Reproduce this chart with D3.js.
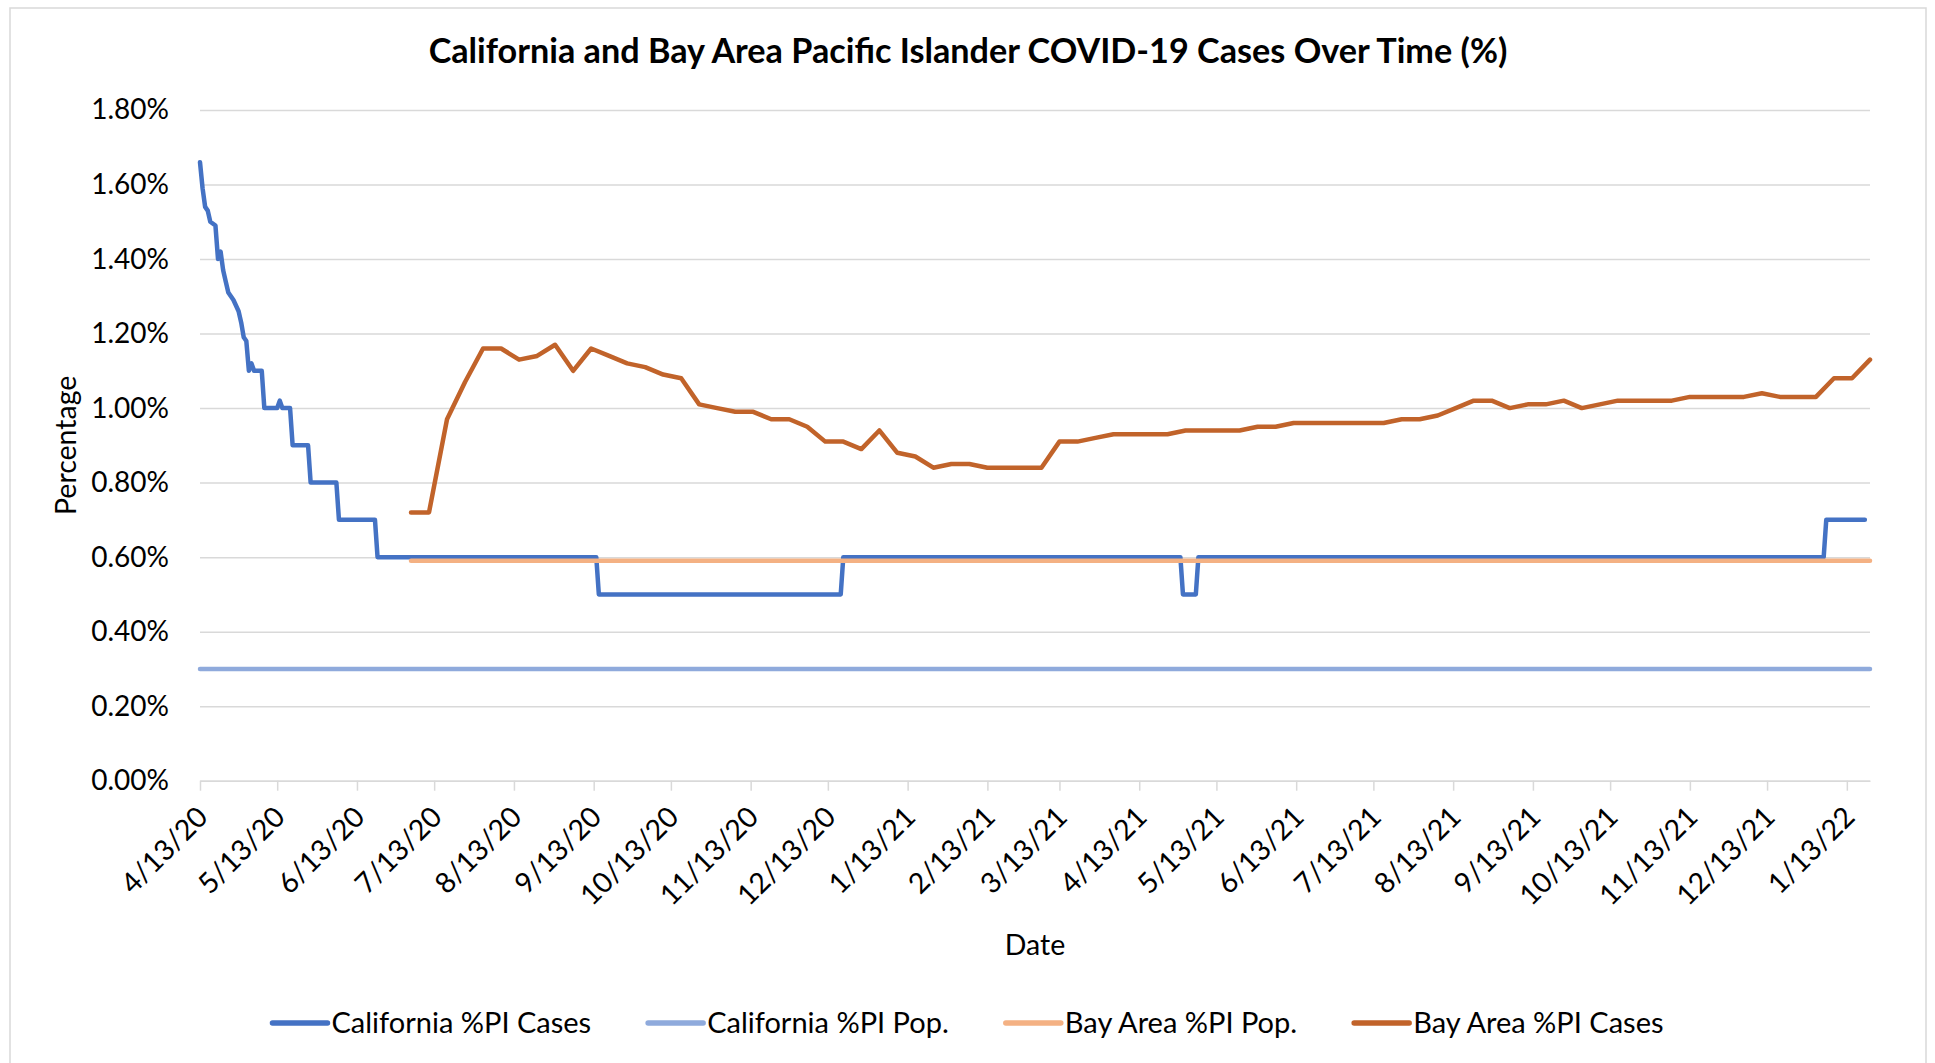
<!doctype html>
<html lang="en">
<head>
<meta charset="utf-8">
<title>California and Bay Area Pacific Islander COVID-19 Cases Over Time (%)</title>
<script src="https://d3js.org/d3.v7.min.js"></script>
<style>
  body { margin: 0; background: #fff; }
  svg { display: block; font-family: Lato, "Open Sans", sans-serif; }
</style>
</head>
<body>
<div id="output"></div>
<script>
// California %PI Cases (change points)
var caCasesDates = ["2020-04-13","2020-04-14","2020-04-15","2020-04-16","2020-04-17","2020-04-19",
  "2020-04-20","2020-04-21","2020-04-22","2020-04-23","2020-04-24","2020-04-25","2020-04-26",
  "2020-04-28","2020-04-29","2020-04-30","2020-05-01","2020-05-02","2020-05-03","2020-05-04",
  "2020-05-07","2020-05-08","2020-05-13","2020-05-14","2020-05-15","2020-05-18","2020-05-19",
  "2020-05-25","2020-05-26","2020-06-05","2020-06-06","2020-06-20","2020-06-21","2020-09-14",
  "2020-09-15","2020-12-18","2020-12-19","2021-04-29","2021-04-30","2021-05-05","2021-05-06",
  "2022-01-04","2022-01-05","2022-01-20"];
var caCasesValues = [1.66,1.59,1.54,1.53,1.50,1.49,
  1.40,1.42,1.37,1.34,1.31,1.30,1.29,
  1.26,1.23,1.19,1.18,1.10,1.12,1.10,
  1.10,1.00,1.00,1.02,1.00,1.00,0.90,
  0.90,0.80,0.80,0.70,0.70,0.60,0.60,
  0.50,0.50,0.60,0.60,0.50,0.50,0.60,
  0.60,0.70,0.70];

// Bay Area %PI Cases, weekly (Saturdays) from 7/4/20 to 1/22/22
var bayCasesStart = "2020-07-04", bayCasesEnd = "2022-01-22";
var bayCasesValues = [0.72,0.72,0.97,1.07,1.16,1.16,1.13,1.14,1.17,1.10,
  1.16,1.14,1.12,1.11,1.09,1.08,1.01,1.00,0.99,0.99,
  0.97,0.97,0.95,0.91,0.91,0.89,0.94,0.88,0.87,0.84,
  0.85,0.85,0.84,0.84,0.84,0.84,0.91,0.91,0.92,0.93,
  0.93,0.93,0.93,0.94,0.94,0.94,0.94,0.95,0.95,0.96,
  0.96,0.96,0.96,0.96,0.96,0.97,0.97,0.98,1.00,1.02,
  1.02,1.00,1.01,1.01,1.02,1.00,1.01,1.02,1.02,1.02,
  1.02,1.03,1.03,1.03,1.03,1.04,1.03,1.03,1.03,1.08,
  1.08,1.13];

// population shares (flat)
var caPopDates = ["2020-04-13","2022-01-22"], caPopValues = [0.30, 0.30];
var bayPopDates = ["2020-07-04","2022-01-22"], bayPopValues = [0.59, 0.59];

var seriesNames = ["California %PI Cases","California %PI Pop.","Bay Area %PI Pop.","Bay Area %PI Cases"];
var seriesColors = ["#4472C4","#8FAADC","#F4B183","#C1632A"];

var xTickLabels = ["4/13/20","5/13/20","6/13/20","7/13/20","8/13/20","9/13/20","10/13/20","11/13/20",
  "12/13/20","1/13/21","2/13/21","3/13/21","4/13/21","5/13/21","6/13/21","7/13/21","8/13/21",
  "9/13/21","10/13/21","11/13/21","12/13/21","1/13/22"];
var yTicks = [0, 0.2, 0.4, 0.6, 0.8, 1.0, 1.2, 1.4, 1.6, 1.8];

var parse = d3.timeParse("%Y-%m-%d");
var parseTick = d3.timeParse("%m/%d/%y");
var fmtTick = d3.timeFormat("%-m/%-d/%y");

var W = 1935, H = 1063;
var plotLeft = 200, plotRight = 1870, plotTop = 110, plotBottom = 780.7;

var svg = d3.select("#output").append("svg")
    .attr("width", W)
    .attr("height", H);

svg.append("rect")
    .attr("x", 10).attr("y", 8)
    .attr("width", 1916).attr("height", 1080)
    .attr("fill", "#fff")
    .attr("stroke", "#D9D9D9")
    .attr("stroke-width", 1.5);

var x = d3.scaleTime()
    .domain([parse("2020-04-13"), parse("2022-01-22")])
    .range([plotLeft, plotRight]);

var y = d3.scaleLinear()
    .domain([0, 1.8])
    .range([plotBottom, plotTop]);

// y axis with gridlines
var yAxis = svg.append("g")
    .attr("transform", "translate(" + plotLeft + ",0)")
    .call(d3.axisLeft(y)
        .tickValues(yTicks)
        .tickSize(-(plotRight - plotLeft))
        .tickPadding(31)
        .tickFormat(function (d) { return d.toFixed(2) + "%"; }));
yAxis.select(".domain").remove();
yAxis.selectAll("line").attr("stroke", "#D9D9D9").attr("stroke-width", 1.5);
yAxis.selectAll("text")
    .attr("font-family", "Lato, sans-serif")
    .attr("font-size", 28)
    .attr("fill", "#000");

// x axis
var xAxis = svg.append("g")
    .attr("transform", "translate(0," + plotBottom + ")")
    .call(d3.axisBottom(x)
        .tickValues(xTickLabels.map(parseTick))
        .tickSize(10)
        .tickSizeOuter(0)
        .tickFormat(fmtTick));
xAxis.select(".domain").attr("stroke", "#D9D9D9").attr("stroke-width", 1.5);
xAxis.selectAll("line").attr("stroke", "#D9D9D9").attr("stroke-width", 1.5);
xAxis.selectAll("text")
    .attr("font-family", "Lato, sans-serif")
    .attr("font-size", 28.5)
    .attr("fill", "#000")
    .attr("text-anchor", "end")
    .attr("x", null)
    .attr("y", null)
    .attr("dy", "0.35em")
    .attr("transform", "translate(2,31) rotate(-45)");

// series
var line = d3.line()
    .x(function (d) { return x(d.date); })
    .y(function (d) { return y(d.value); });

function pairs(dates, values) {
    return dates.map(function (d, i) { return { date: d, value: values[i] }; });
}

var bayDates = d3.timeSaturday.range(parse(bayCasesStart), d3.timeDay.offset(parse(bayCasesEnd), 1));

var series = [
    pairs(caCasesDates.map(parse), caCasesValues),
    pairs(caPopDates.map(parse), caPopValues),
    pairs(bayPopDates.map(parse), bayPopValues),
    pairs(bayDates, bayCasesValues)
];

svg.append("g").selectAll("path")
    .data(series)
    .enter()
    .append("path")
    .attr("d", line)
    .attr("fill", "none")
    .attr("stroke", function (d, i) { return seriesColors[i]; })
    .attr("stroke-width", 4.5)
    .attr("stroke-linejoin", "round")
    .attr("stroke-linecap", "round");

// titles
svg.append("text")
    .attr("x", 968).attr("y", 63)
    .attr("text-anchor", "middle")
    .attr("font-size", 34.2)
    .attr("font-weight", "bold")
    .text("California and Bay Area Pacific Islander COVID-19 Cases Over Time (%)");

svg.append("text")
    .attr("x", (plotLeft + plotRight) / 2).attr("y", 955)
    .attr("text-anchor", "middle")
    .attr("font-size", 28.5)
    .text("Date");

svg.append("text")
    .attr("transform", "translate(76," + (plotTop + plotBottom) / 2 + ") rotate(-90)")
    .attr("text-anchor", "middle")
    .attr("font-size", 28.5)
    .text("Percentage");

// legend
var legend = svg.append("g").attr("transform", "translate(0,1023)");
var items = legend.selectAll("g")
    .data(seriesNames)
    .enter()
    .append("g");
items.append("line")
    .attr("x1", 0).attr("x2", 55)
    .attr("stroke", function (d, i) { return seriesColors[i]; })
    .attr("stroke-width", 5.5)
    .attr("stroke-linecap", "round");
items.append("text")
    .attr("x", 59)
    .attr("dy", "0.35em")
    .attr("font-size", 29)
    .text(function (d) { return d; });

var widths = [];
items.select("text").each(function () { widths.push(59 + this.getComputedTextLength()); });
var total = d3.sum(widths) + 57 * (widths.length - 1);
var pos = 968 - total / 2;
items.attr("transform", function (d, i) {
    var p = pos;
    pos += widths[i] + 57;
    return "translate(" + p + ",0)";
});
</script>
</body>
</html>
